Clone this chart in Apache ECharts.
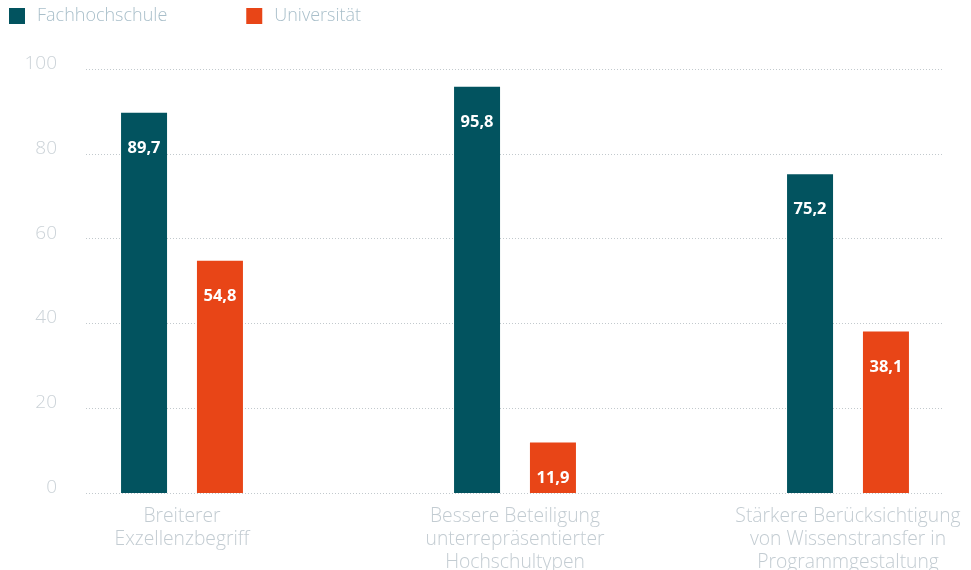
<!DOCTYPE html>
<html>
<head>
<meta charset="utf-8">
<script src="https://cdn.jsdelivr.net/npm/echarts@6/dist/echarts.min.js"></script>
<style>
  html, body { margin: 0; padding: 0; background: #fff; }
  #chart { width: 971px; height: 570px; }
</style>
</head>
<body>
<div id="chart"></div>
<script>
// Categories and values (percent)
const categories = [
  'Breiterer\nExzellenzbegriff',
  'Bessere Beteiligung\nunterrepräsentierter\nHochschultypen',
  'Stärkere Berücksichtigung\nvon Wissenstransfer in\nProgrammgestaltung'
];
const fachhochschule = [89.7, 95.8, 75.2];
const universitaet = [54.8, 11.9, 38.1];
const seriesNames = ['Fachhochschule', 'Universität'];
const yTicks = [0, 20, 40, 60, 80, 100];

const FONT = '"Open Sans", Lato, sans-serif';
const fmt = p => String(p.value).replace('.', ',');

const labelStyle = {
  show: true,
  position: 'insideTop',
  distance: 27,
  color: '#ffffff',
  fontFamily: FONT,
  fontWeight: 'bold',
  fontSize: 16.5,
  formatter: fmt
};

const chart = echarts.init(document.getElementById('chart'), null, { renderer: 'canvas' });
chart.setOption({
  animation: false,
  legend: {
    left: 4,
    top: 2,
    itemWidth: 16,
    itemHeight: 16,
    itemGap: 79,
    icon: 'rect',
    textStyle: { color: '#a9bfca', fontFamily: FONT, fontWeight: 300, fontSize: 18, padding: [0, 0, 0, 7] },
    data: seriesNames
  },
  grid: [
    { left: 86, right: 27, top: 69, bottom: 77, outerBoundsMode: 'none', containLabel: false },
    { left: 15.5, width: 999, top: 69, bottom: 77, outerBoundsMode: 'none', containLabel: false }
  ],
  xAxis: [
    { gridIndex: 0, type: 'value', show: false, min: 0, max: 1 },
    {
      gridIndex: 1,
      type: 'category',
      data: categories,
      axisLine: { show: false },
      axisTick: { show: false },
      axisLabel: {
        margin: 12,
        color: '#c3ccd2',
        fontFamily: FONT,
        fontWeight: 300,
        fontSize: 19.3,
        lineHeight: 23,
        interval: 0,
        hideOverlap: false
      }
    }
  ],
  yAxis: [
    {
      gridIndex: 0,
      type: 'value',
      min: yTicks[0],
      max: yTicks[yTicks.length - 1],
      interval: 20,
      axisLine: { show: false },
      axisTick: { show: false },
      axisLabel: {
        margin: 29,
        color: '#ccd3d8',
        fontFamily: FONT,
        fontWeight: 300,
        fontSize: 19,
        verticalAlign: 'bottom',
        lineHeight: 11
      },
      splitLine: { lineStyle: { color: '#c2c9cd', type: [1, 2], width: 1 } }
    },
    {
      gridIndex: 1,
      type: 'value',
      min: yTicks[0],
      max: yTicks[yTicks.length - 1],
      show: false
    }
  ],
  series: [
    {
      name: seriesNames[0],
      type: 'bar',
      xAxisIndex: 1,
      yAxisIndex: 1,
      data: fachhochschule,
      barWidth: 46,
      barGap: '65%',
      itemStyle: { color: '#02535f' },
      label: labelStyle
    },
    {
      name: seriesNames[1],
      type: 'bar',
      xAxisIndex: 1,
      yAxisIndex: 1,
      data: universitaet,
      barWidth: 46,
      itemStyle: { color: '#e84517' },
      label: labelStyle
    }
  ]
});
</script>
</body>
</html>
